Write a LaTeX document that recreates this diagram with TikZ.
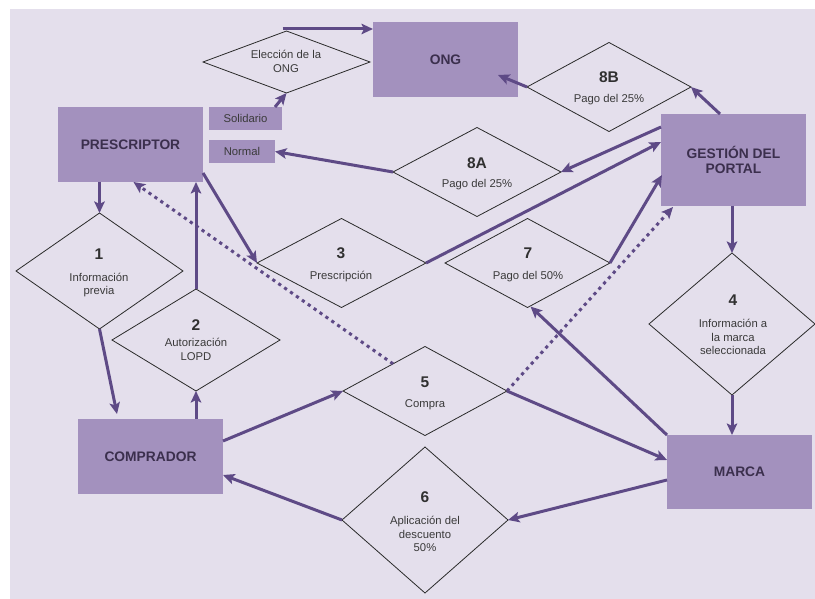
\documentclass[tikz,border=0pt]{standalone}
\usepackage{fontspec}
\setmainfont{Liberation Sans}
\usetikzlibrary{arrows.meta,shapes.geometric,calc}
\definecolor{bgc}{HTML}{E4DFEC}
\definecolor{boxc}{HTML}{A391BE}
\definecolor{arrc}{HTML}{5E4A86}
\definecolor{boxtxt}{HTML}{3B2F4D}
\definecolor{lbl}{HTML}{3A3A3A}
\definecolor{numc}{HTML}{303030}
\definecolor{dline}{HTML}{2A2A2A}
\tikzset{
  box/.style={fill=boxc, draw=none, inner sep=0pt, outer sep=0pt, align=center,
    font=\fontsize{13.8}{15.3}\selectfont\bfseries, text=boxtxt},
  tag/.style={fill=boxc, draw=none, inner sep=0pt, outer sep=0pt,
    font=\fontsize{11.3}{13.8}\selectfont, text=lbl},
  dia/.style={diamond, draw=dline, line width=0.8pt, inner sep=0pt, outer sep=0pt, aspect=1},
  num/.style={font=\fontsize{15.5}{18}\selectfont\bfseries, text=numc, inner sep=0pt},
  lab/.style={font=\fontsize{11.3}{13.8}\selectfont, text=lbl, align=center, inner sep=0pt},
  arr/.style={draw=arrc, line width=3pt, -{Stealth[length=11.5pt,width=10.5pt,inset=2.5pt]}},
  dots/.style={arr, dash pattern=on 3.2pt off 4pt}
}
\begin{document}
\begin{tikzpicture}[x=1pt,y=-1pt]
\useasboundingbox (0,0) rectangle (815,599);
\fill[bgc] (10,9) rectangle (815,599);

% boxes
\node[box, minimum width=145pt, minimum height=75pt] (ong) at (445.5,59.5) {ONG};
\node[box, minimum width=145pt, minimum height=75pt] (pres) at (130.5,144.5) {PRESCRIPTOR};
\node[tag, minimum width=73pt, minimum height=23pt] (soli) at (245.5,118.5) {Solidario};
\node[tag, minimum width=66pt, minimum height=23pt] (norm) at (242,151.5) {Normal};
\node[box, minimum width=145pt, minimum height=92pt] (gest) at (733.5,160) {GESTIÓN DEL\\PORTAL};
\node[box, minimum width=145pt, minimum height=75pt] (comp) at (150.5,456.5) {COMPRADOR};
\node[box, minimum width=145pt, minimum height=74pt] (marca) at (739.5,472) {MARCA};

% diamonds
\node[dia, minimum width=167pt, minimum height=62pt] (elec) at (286.5,62) {};
\node[dia, minimum width=164pt, minimum height=89pt] (d8b) at (609,87) {};
\node[dia, minimum width=168pt, minimum height=89pt] (d8a) at (477,172) {};
\node[dia, minimum width=167pt, minimum height=116pt] (d1) at (99.5,271) {};
\node[dia, minimum width=168pt, minimum height=102pt] (d2) at (196,340) {};
\node[dia, minimum width=169pt, minimum height=89pt] (d3) at (341.5,263) {};
\node[dia, minimum width=165pt, minimum height=89pt] (d7) at (527.5,263) {};
\node[dia, minimum width=166pt, minimum height=142pt] (d4) at (732,324) {};
\node[dia, minimum width=164pt, minimum height=89pt] (d5) at (425,391) {};
\node[dia, minimum width=166pt, minimum height=146pt] (d6) at (425,520) {};

% diamond texts
\node[lab] (telec) at (286,61.5) {Elección de la\\ONG};
\node[num] (n8b) at (609,77) {8B};
\node[lab] (l8b) at (609,100) {Pago del 25\%};
\node[num] (n8a) at (477,163) {8A};
\node[lab] (l8a) at (477,185) {Pago del 25\%};
\node[num] (n1) at (99,254) {1};
\node[lab] (l1) at (99,285) {Información\\previa};
\node[num] (n2) at (196,325) {2};
\node[lab] (l2) at (196,349) {Autorización\\LOPD};
\node[num] (n3) at (341,253) {3};
\node[lab] (l3) at (341,277) {Prescripción};
\node[num] (n7) at (528,253) {7};
\node[lab] (l7) at (528,277) {Pago del 50\%};
\node[num] (n4) at (733,300) {4};
\node[lab] (l4) at (733,337) {Información a\\la marca\\seleccionada};
\node[num] (n5) at (425,382) {5};
\node[lab] (l5) at (425,405) {Compra};
\node[num] (n6) at (425,497) {6};
\node[lab] (l6) at (425,534) {Aplicación del\\descuento\\50\%};

% connectors
\draw[arr] ($(elec.north)+(-4,-2)$) -- ($(ong.north west)+(0,7)$);
\draw[arr] ($(soli.north east)+(-7,0)$) -- (elec.south);
\draw[arr] (d8a.west) -- (norm.east);
\draw[arr] (d8b.west) -- ($(ong.south east)+(-20,-22)$);
\draw[arr] ($(gest.north west)+(59,0)$) -- (d8b.east);
\draw[arr] ($(gest.north west)+(0,13)$) -- (d8a.east);
\draw[arr] (d3.east) -- ($(gest.north west)+(0,28)$);
\draw[arr] (d7.east) -- ($(gest.north west)+(1,61)$);
\draw[dots] (d5.east) -- ($(gest.south west)+(12,1)$);
\draw[dots] ($(d5.west)!0.61!(d5.north)$) -- ($(pres.south)+(3,0)$);
\draw[arr] (d4.north |- gest.south) -- (d4.north);
\draw[arr] (d4.south) -- (d4.south |- marca.north);
\draw[arr] (marca.north west) -- ($(d7.south)+(3,-1)$);
\draw[arr] (d5.east) -- ($(marca.west)+(0,-12)$);
\draw[arr] ($(marca.west)+(0,8)$) -- (d6.east);
\draw[arr] (d6.west) -- ($(comp.east)+(0,18.5)$);
\draw[arr] ($(comp.east)+(0,-15.5)$) -- (d5.west);
\draw[arr] (d2.south |- comp.north) -- (d2.south);
\draw[arr] (d2.north) -- (d2.north |- pres.south);
\draw[arr] (d1.north |- pres.south) -- (d1.north);
\draw[arr] (d1.south) -- ($(comp.north west)+(39,-5)$);
\draw[arr] ($(pres.south east)+(0,-9)$) -- (d3.west);
\end{tikzpicture}
\end{document}
